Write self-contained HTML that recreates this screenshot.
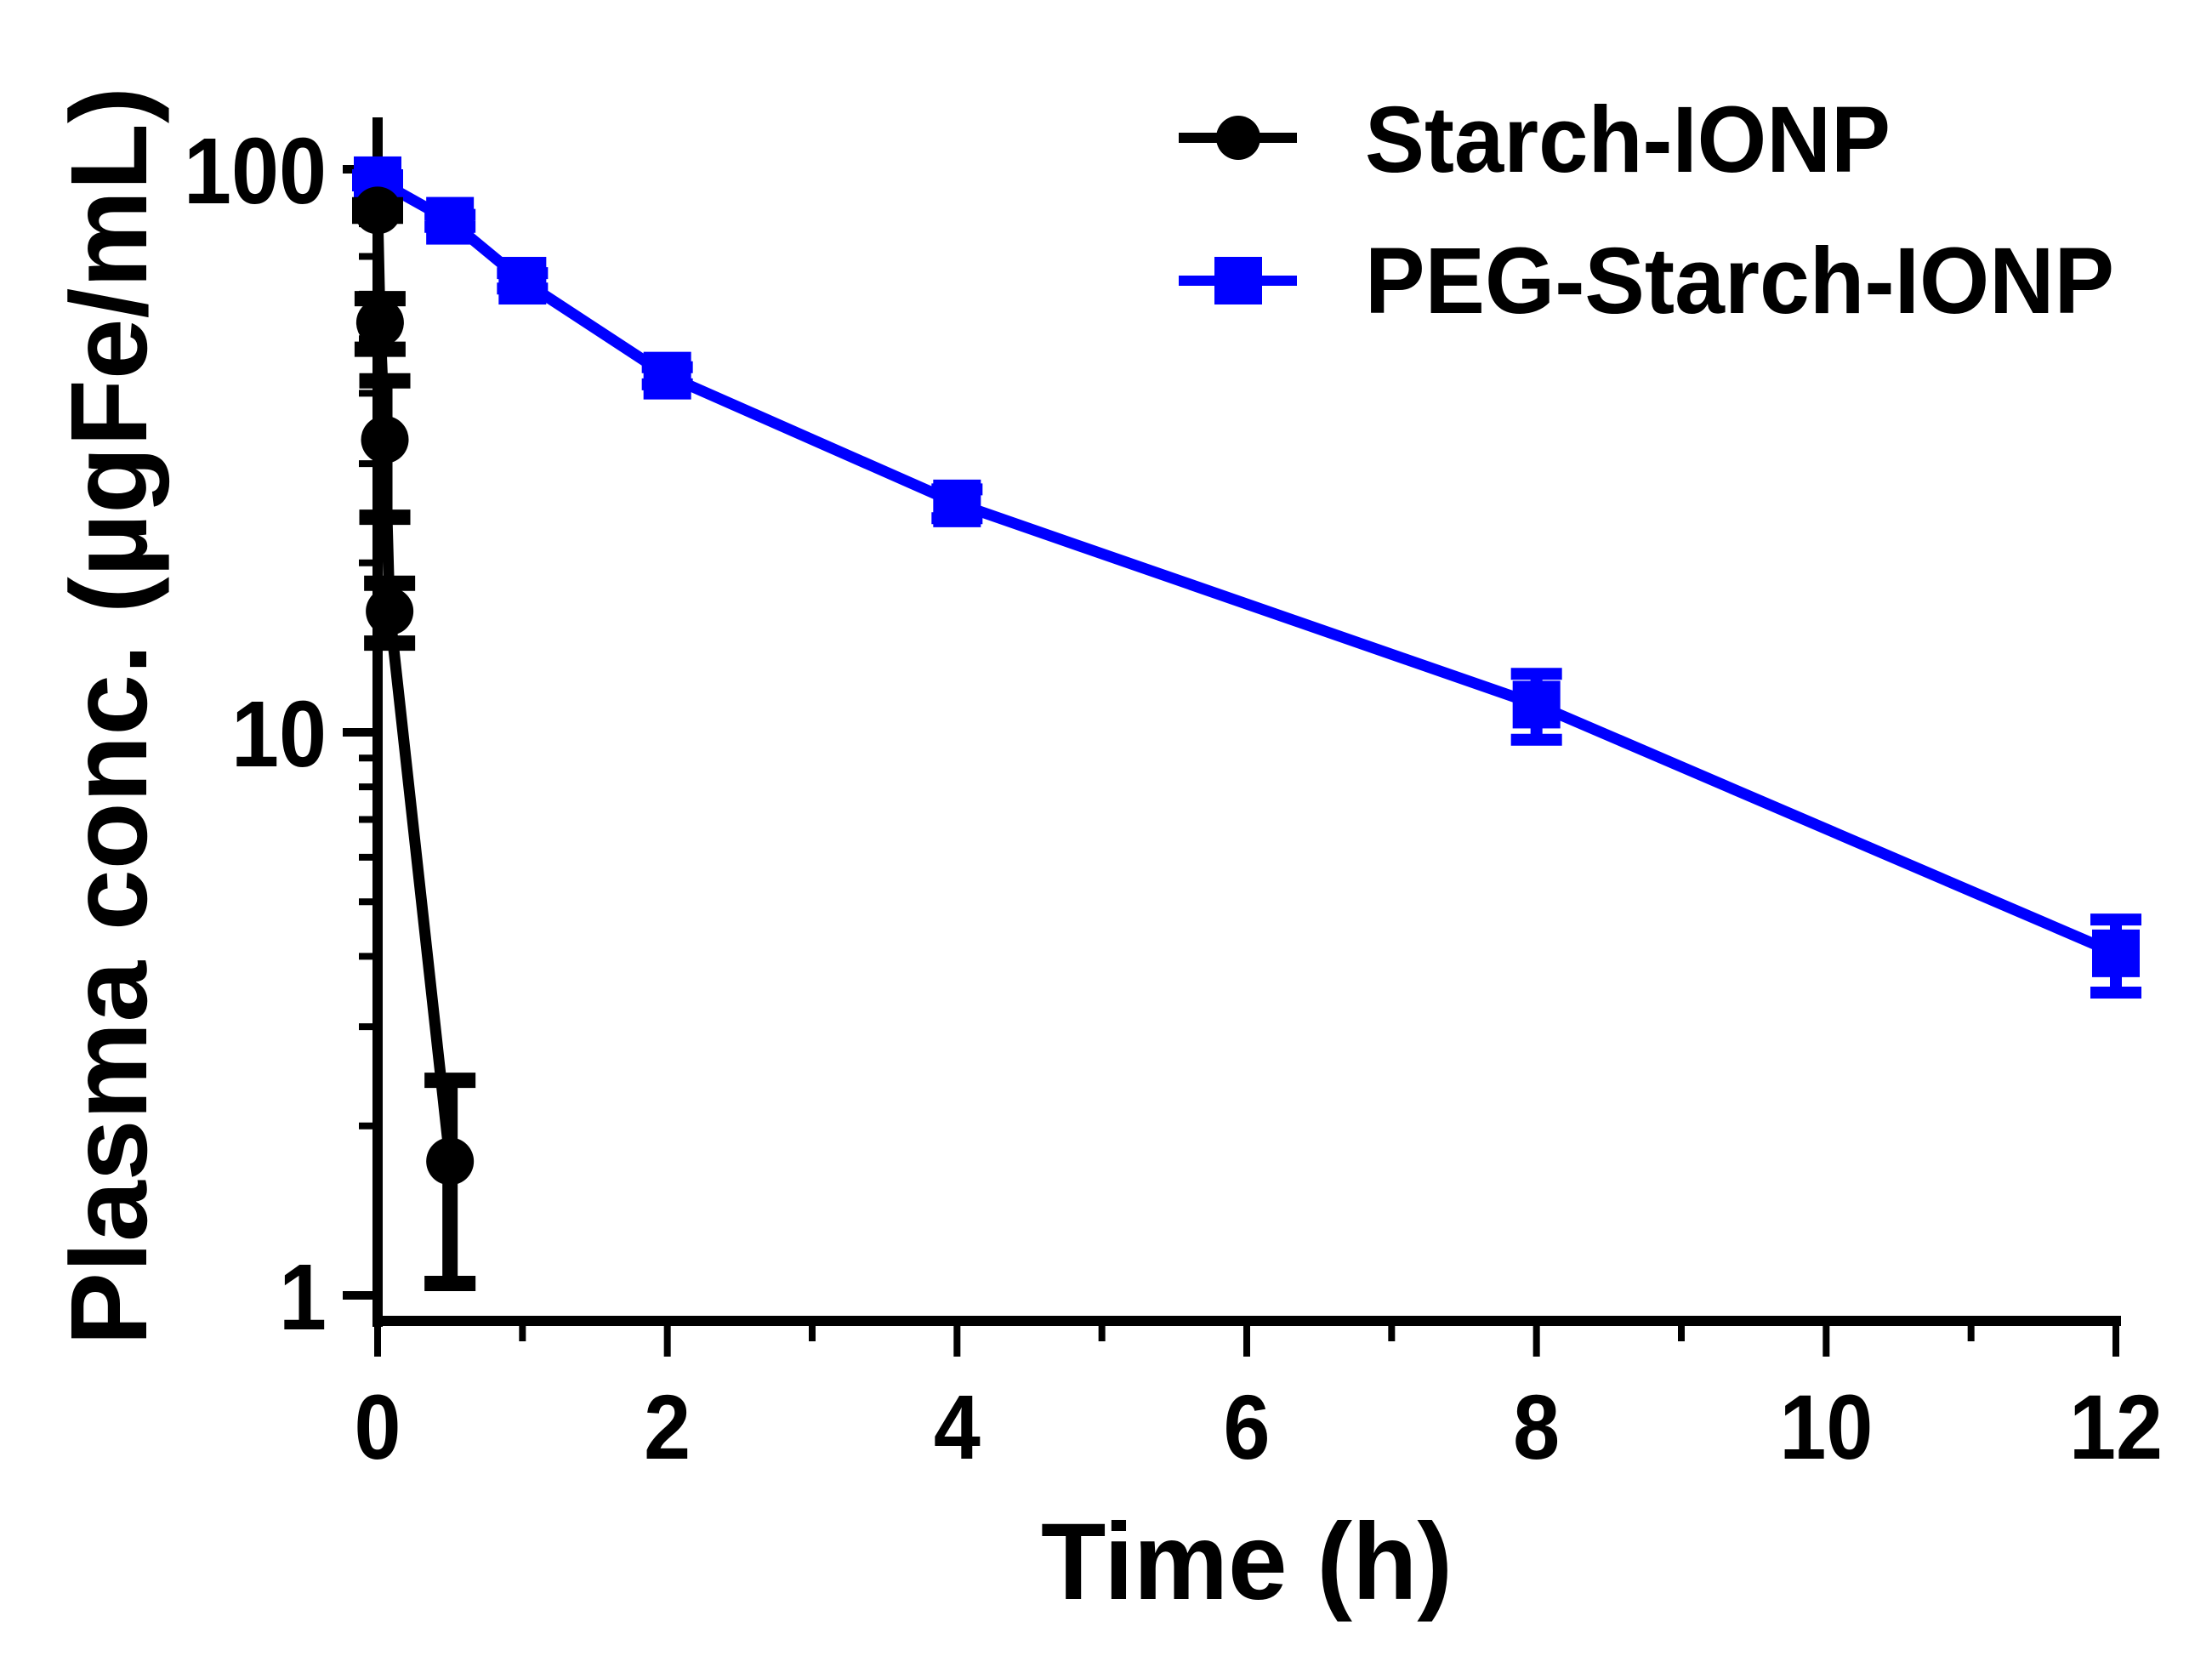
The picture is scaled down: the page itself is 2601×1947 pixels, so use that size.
<!DOCTYPE html>
<html><head><meta charset="utf-8"><style>
html,body{margin:0;padding:0;background:#fff;}
svg{display:block;}
text{font-family:"Liberation Sans",Arial,sans-serif;font-weight:bold;fill:#000;}
</style></head><body>
<svg id="chart" width="2601" height="1947" viewBox="0 0 2601 1947" xmlns="http://www.w3.org/2000/svg">
<g id="axes"></g>
<g id="series"></g>
<text transform="translate(172,842) rotate(-90)" text-anchor="middle" font-size="128" textLength="1480" lengthAdjust="spacingAndGlyphs">Plasma conc. (µgFe/mL)</text>
<text x="1466" y="1880" text-anchor="middle" font-size="128" textLength="484" lengthAdjust="spacingAndGlyphs">Time (h)</text>
<g>
<g>
<line x1="1386" y1="162" x2="1525" y2="162" stroke="#000" stroke-width="12"/>
<circle cx="1456" cy="162" r="26" fill="#000"/>
<text x="1605" y="202" font-size="110" textLength="618" lengthAdjust="spacingAndGlyphs">Starch-IONP</text>
</g>
<g>
<line x1="1386" y1="330" x2="1525" y2="330" stroke="#0000ff" stroke-width="12"/>
<rect x="1428" y="302" width="56" height="56" fill="#0000ff"/>
<text x="1605" y="368" font-size="110" textLength="881" lengthAdjust="spacingAndGlyphs">PEG-Starch-IONP</text>
</g>
</g>
</svg>
<script>
const xTicks = [0, 2, 4, 6, 8, 10, 12];
const xMinorTicks = [1, 3, 5, 7, 9, 11];
const yTicks = [1, 10, 100];
const yTickLabels = ["1", "10", "100"];
const starchTime = [0, 0.017, 0.05, 0.083, 0.5];
const starchMean = [84.5, 53.4, 33.1, 16.4, 1.73];
const starchErr = [2, 5.5, 9, 2, 0.68];
const pegTime = [0, 0.5, 1, 2, 4, 8, 12];
const pegMean = [95.6, 81, 63.4, 43, 25.5, 11.2, 4.05];
const pegErr = [2, 2, 2, 1.5, 1.5, 1.5, 0.6];

const NS = "http://www.w3.org/2000/svg";
const X0 = 444, X1 = 2488, Y100 = 199, DEC = 662;
function xs(t){ return X0 + (X1 - X0) * t / 12; }
function ys(v){ return Y100 + (2 - Math.log10(v)) * DEC; }
function mk(tag, attrs, parent){
  const e = document.createElementNS(NS, tag);
  for (const k in attrs) e.setAttribute(k, attrs[k]);
  parent.appendChild(e);
  return e;
}
const axes = document.getElementById('axes');
const series = document.getElementById('series');

let ya = mk('line', {x1:X0, y1:138, x2:X0, y2:1560, stroke:'#000', 'stroke-width':12}, axes);


let xa = mk('line', {x1:X0-6, y1:1553, x2:X1+6, y2:1553, stroke:'#000', 'stroke-width':12}, axes);



yTicks.forEach((v, i) => {
  const y = ys(v);
  const t = mk('line', {x1:403, y1:y, x2:X0, y2:y, stroke:'#000', 'stroke-width':10}, axes);
  
  
  const lab = mk('text', {x:384, y:y+40, 'text-anchor':'end', 'font-size':110, textLength: yTickLabels[i].length*56, lengthAdjust:'spacingAndGlyphs'}, axes);
  lab.textContent = yTickLabels[i];
  
  
  if (i < yTicks.length - 1) {
    for (let m = 2; m <= 9; m++) {
      const ym = ys(v * m);
      const mt = mk('line', {x1:422, y1:ym, x2:X0, y2:ym, stroke:'#000', 'stroke-width':8}, axes);
      
      
    }
  }
});
xTicks.forEach(t => {
  const x = xs(t);
  const tk = mk('line', {x1:x, y1:1553, x2:x, y2:1595, stroke:'#000', 'stroke-width':8}, axes);
  
  
  const s = String(t);
  const lab = mk('text', {x:x, y:1715, 'text-anchor':'middle', 'font-size':108, textLength: s.length*55, lengthAdjust:'spacingAndGlyphs'}, axes);
  lab.textContent = s;
  
  
});
xMinorTicks.forEach(t => {
  const x = xs(t);
  const tk = mk('line', {x1:x, y1:1553, x2:x, y2:1577, stroke:'#000', 'stroke-width':8}, axes);
  
  
});

function drawSeries(times, means, errs, color, lw, kind, name){
  const g = mk('g', {}, series);
  
  
  const pts = times.map((t, i) => xs(t) + ',' + ys(means[i])).join(' ');
  const pl = mk('polyline', {points:pts, fill:'none', stroke:color, 'stroke-width':lw, 'stroke-linejoin':'round'}, g);
  
  
  times.forEach((t, i) => {
    const x = xs(t), yHi = ys(means[i] + errs[i]), yLo = ys(Math.max(means[i] - errs[i], 0.01));
    const eb = mk('path', {d:`M${x},${yHi}V${yLo}M${x-30},${yHi}H${x+30}M${x-30},${yLo}H${x+30}`, stroke:color, 'stroke-width':kind==='circle'?18:14, fill:'none'}, g);
    
    
    let m;
    if (kind === 'circle') m = mk('circle', {cx:x, cy:ys(means[i]), r:28, fill:color}, g);
    else m = mk('rect', {x:x-28, y:ys(means[i])-28, width:56, height:56, fill:color}, g);
    
    
  });
}
drawSeries(pegTime, pegMean, pegErr, '#0000ff', 13, 'square', 'peg-starch-ionp');
drawSeries(starchTime, starchMean, starchErr, '#000', 13, 'circle', 'starch-ionp');
</script>
</body></html>
